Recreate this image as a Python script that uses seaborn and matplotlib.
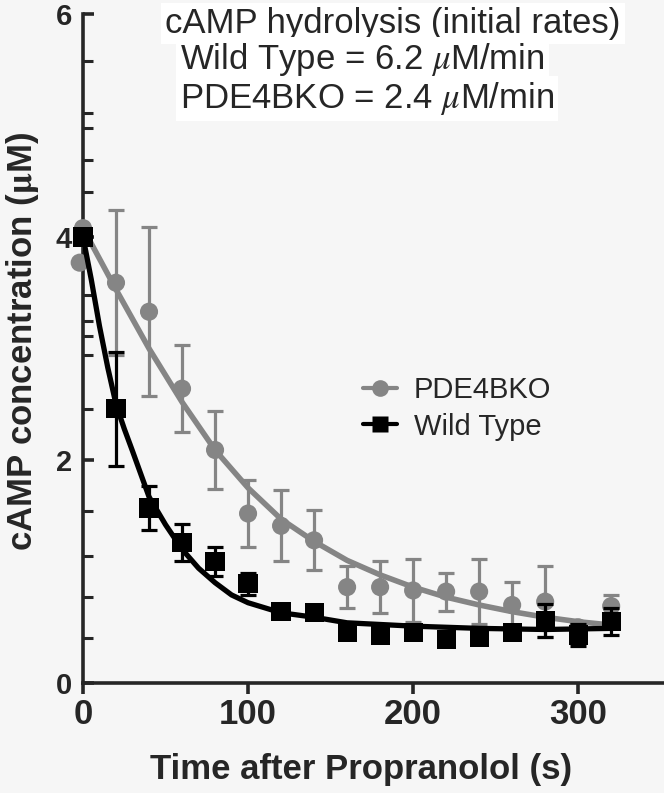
import numpy as np
import matplotlib
matplotlib.use("Agg")
import matplotlib.pyplot as plt
import seaborn as sns
import pandas as pd
from matplotlib.lines import Line2D

time_pts = [0, 20, 40, 60, 80, 100, 120, 140, 160, 180, 200, 220, 240, 260, 280, 300, 320]
ko_mean = [4.08, 3.59, 3.33, 2.64, 2.09, 1.52, 1.41, 1.28, 0.86, 0.86, 0.83, 0.82, 0.82, 0.70, 0.73, 0.50, 0.69]
ko_err = [0.0, 0.65, 0.76, 0.39, 0.35, 0.30, 0.32, 0.27, 0.19, 0.23, 0.28, 0.17, 0.29, 0.21, 0.32, 0.05, 0.10]
wt_mean = [4.00, 2.46, 1.57, 1.26, 1.09, 0.89, 0.64, 0.63, 0.45, 0.43, 0.45, 0.39, 0.41, 0.45, 0.56, 0.43, 0.55]
wt_err = [0.0, 0.51, 0.20, 0.17, 0.13, 0.10, 0.04, 0.03, 0.03, 0.03, 0.03, 0.03, 0.03, 0.03, 0.15, 0.10, 0.12]

# extra PDE4BKO replicate drawn at t=0
ko_extra_t = [-2]
ko_extra_y = [3.77]

# fitted curves
ko_fit_t = [0, 20, 40, 60, 80, 100, 120, 140, 160, 180, 200, 220, 240, 260, 280, 300, 320]
ko_fit_y = [4.08, 3.53, 3.00, 2.52, 2.09, 1.75, 1.47, 1.27, 1.10, 0.97, 0.86, 0.77, 0.70, 0.64, 0.59, 0.55, 0.52]
wt_fit_t = [0, 5, 10, 15, 20, 25, 30, 40, 50, 60, 70, 80, 90, 100, 120, 140, 160, 200, 240, 280, 320]
wt_fit_y = [4.00, 3.62, 3.20, 2.83, 2.50, 2.28, 2.08, 1.67, 1.42, 1.20, 1.03, 0.90, 0.79, 0.72, 0.63, 0.59, 0.54, 0.51, 0.49, 0.48, 0.49]

y_minor = [0.40, 0.77, 1.14, 1.54, 2.46, 2.94, 3.11, 3.25, 3.48, 4.40, 4.69, 4.98, 5.11, 5.58]

gray = "#858585"
bg = "#f6f6f6"

sns.set_style("ticks")
plt.rcParams["font.family"] = ["Liberation Sans", "DejaVu Sans"]
plt.rcParams["mathtext.fontset"] = "stix"

fig = plt.figure(figsize=(6.64, 7.93), dpi=100, facecolor=bg)
ax = fig.add_axes([0.125, 0.1387, 0.875, 0.8436])
ax.set_facecolor(bg)

ko_fit = pd.DataFrame({"t": ko_fit_t, "y": ko_fit_y})
wt_fit = pd.DataFrame({"t": wt_fit_t, "y": wt_fit_y})

# PDE4BKO
ax.errorbar(time_pts, ko_mean, yerr=ko_err, fmt="none", ecolor=gray, elinewidth=2.3,
            capsize=6, capthick=2.3, zorder=2)
sns.lineplot(data=ko_fit, x="t", y="y", ax=ax, color=gray, linewidth=4, zorder=3)
sns.scatterplot(x=time_pts + ko_extra_t, y=ko_mean + ko_extra_y, ax=ax, color=gray,
                marker="o", s=170, edgecolor="none", zorder=4, clip_on=False)

# Wild type
ax.errorbar(time_pts, wt_mean, yerr=wt_err, fmt="none", ecolor="black", elinewidth=2.3,
            capsize=6, capthick=2.3, zorder=5)
sns.lineplot(data=wt_fit, x="t", y="y", ax=ax, color="black", linewidth=3.8, zorder=6)
sns.scatterplot(x=time_pts, y=wt_mean, ax=ax, color="black", marker="s", s=190,
                edgecolor="none", zorder=7, clip_on=False)

ax.set_xlim(0, 352)
ax.set_ylim(0, 6)
ax.set_xticks([0, 100, 200, 300])
ax.set_yticks([0, 2, 4, 6])
ax.set_yticks(y_minor, minor=True)
sns.despine(ax=ax)
for s in ["left", "bottom"]:
    ax.spines[s].set_linewidth(2.6)
ax.tick_params(axis="x", direction="out", length=8, width=2.6, pad=3, labelsize=25)
ax.tick_params(axis="y", which="major", direction="in", length=8, width=2.6, pad=8, labelsize=21)
ax.tick_params(axis="y", which="minor", direction="in", length=7, width=2.2)
for lab in ax.get_xticklabels() + ax.get_yticklabels():
    lab.set_fontweight("bold")

ax.set_xlabel("Time after Propranolol (s)", fontsize=25, fontweight="bold")
ax.xaxis.set_label_coords(0.478, -0.105)
ax.set_ylabel(r"cAMP concentration ($\mathbf{\mu}$M)", fontsize=25, fontweight="bold")
ax.yaxis.set_label_coords(-0.072, 0.51)

box = dict(facecolor="white", edgecolor="none", pad=3)
fig.text(393 / 664, 1 - 33 / 793, "cAMP hydrolysis (initial rates)", ha="center",
         va="baseline", fontsize=25, bbox=box)
fig.text(180 / 664, 1 - 69 / 793, r"Wild Type = 6.2 $\mu$M/min", ha="left",
         va="baseline", fontsize=25, bbox=box)
fig.text(180 / 664, 1 - 108 / 793, r"PDE4BKO = 2.4 $\mu$M/min", ha="left",
         va="baseline", fontsize=25, bbox=box)

handles = [
    Line2D([], [], color=gray, linewidth=3, marker="o", markersize=12, markeredgecolor="none"),
    Line2D([], [], color="black", linewidth=3, marker="s", markersize=12, markeredgecolor="none"),
]
ax.legend(handles, ["PDE4BKO", "Wild Type"], loc="upper left", bbox_to_anchor=(0.482, 0.459),
          frameon=False, fontsize=21, handlelength=1.15, handletextpad=0.6, labelspacing=0.3,
          borderpad=0, borderaxespad=0)

plt.savefig("out.png", dpi=100, facecolor=bg)
